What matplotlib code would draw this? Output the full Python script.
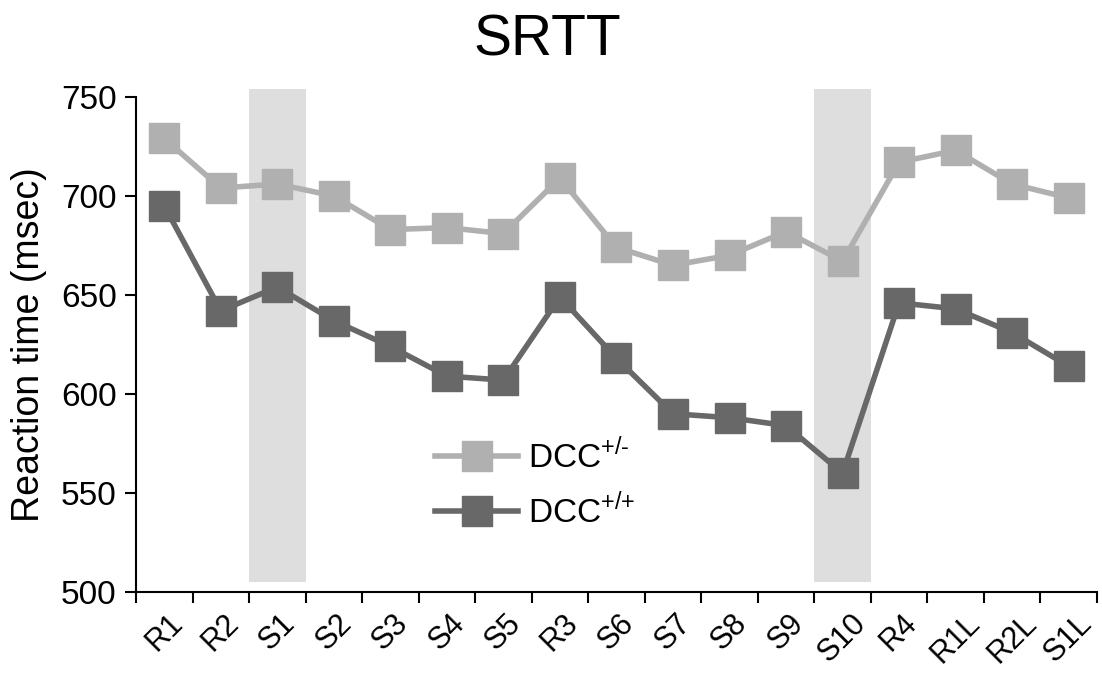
import matplotlib
matplotlib.use("Agg")
import matplotlib.pyplot as plt
import numpy as np

plt.rcParams['font.family'] = ['Liberation Sans', 'DejaVu Sans']
plt.rcParams['mathtext.fontset'] = 'custom'
plt.rcParams['mathtext.rm'] = 'Liberation Sans'

# sessions and mean reaction times (msec)
sessions = ["R1", "R2", "S1", "S2", "S3", "S4", "S5", "R3", "S6", "S7",
            "S8", "S9", "S10", "R4", "R1L", "R2L", "S1L"]
het = [729, 704, 706, 700, 683, 684, 681, 709, 674, 665,
       670, 682, 667, 717, 723, 706, 699]
wt = [695, 642, 654, 637, 624, 609, 607, 649, 618, 590,
      588, 584, 560, 646, 643, 631, 614]
shaded = ["S1", "S10"]

x = np.arange(len(sessions))

fig = plt.figure(figsize=(11.02, 6.73), dpi=100)
ax = fig.add_axes([0.1234, 0.1204, 0.872, 0.7356])

# grey bands behind the S1 and S10 sessions
for s in shaded:
    i = sessions.index(s)
    ax.axvspan(i - 0.5, i + 0.5, ymin=0.02, ymax=1.015, color="#dedede",
               lw=0, zorder=0, clip_on=False)

ax.plot(x, het, color="#b0b0b0", lw=4, marker="s", markersize=21,
        label=r"DCC$^{\text{+/-}}$", zorder=3)
ax.plot(x, wt, color="#686868", lw=4, marker="s", markersize=21,
        label=r"DCC$^{\text{+/+}}$", zorder=3)

ax.set_xlim(-0.5, len(sessions) - 0.5)
ax.set_ylim(500, 750)
ax.set_yticks([500, 550, 600, 650, 700, 750])

# tick marks between categories, labels at the centres
ax.set_xticks(np.arange(-0.5, len(sessions), 1.0))
ax.set_xticklabels([])
ax.set_xticks(x, minor=True)
ax.set_xticklabels(sessions, minor=True, rotation=45, ha="center", fontsize=22)
ax.tick_params(axis="x", which="minor", length=0, pad=12)
ax.tick_params(axis="both", which="major", length=8, width=1.5, direction="out")
ax.tick_params(axis="y", labelsize=24, pad=6)

for side in ["top", "right"]:
    ax.spines[side].set_visible(False)
for side in ["left", "bottom"]:
    ax.spines[side].set_linewidth(1.5)

ax.set_ylabel("Reaction time (msec)", fontsize=27, labelpad=10)
fig.text(0.497, 0.94, "SRTT", fontsize=41, ha="center", va="center")

ax.legend(loc="lower left", bbox_to_anchor=(0.28, 0.065), frameon=False,
          fontsize=24, handlelength=2.5, labelspacing=0.55, handletextpad=0.3)

fig.savefig("out.png", dpi=100)
